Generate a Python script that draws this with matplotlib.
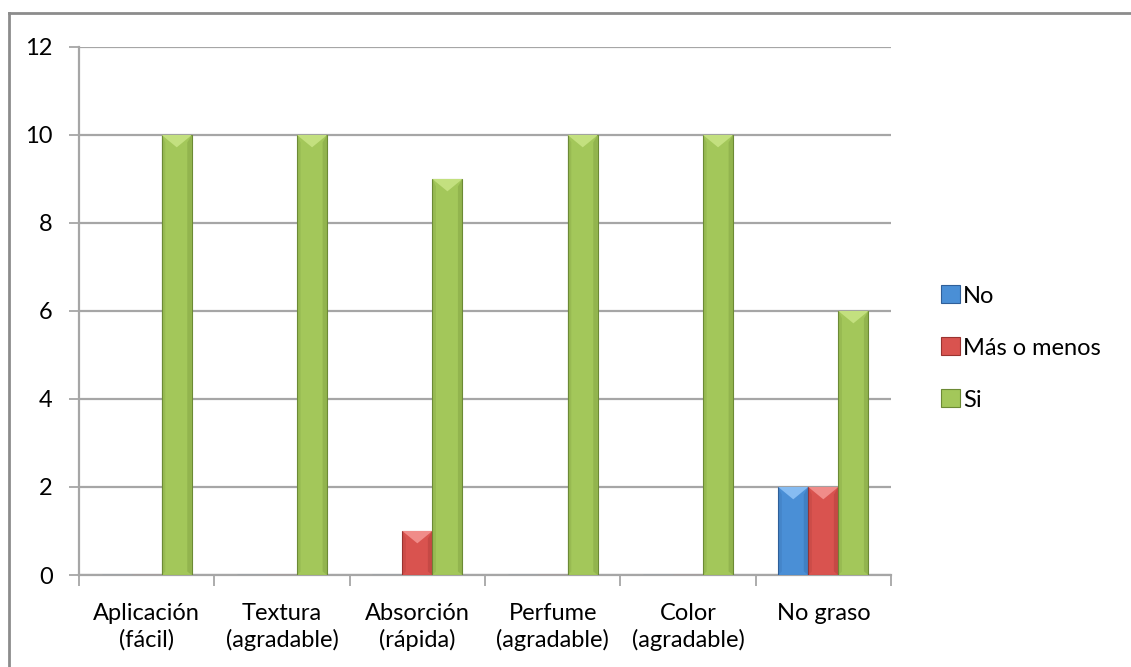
import numpy as np
import matplotlib.pyplot as plt
from matplotlib.patches import Polygon
from matplotlib.lines import Line2D

# survey results per attribute
categorias = ['Aplicación\n(fácil)', 'Textura\n(agradable)', 'Absorción\n(rápida)',
              'Perfume\n(agradable)', 'Color\n(agradable)', 'No graso']
no = [0, 0, 0, 0, 0, 2]
mas_o_menos = [0, 0, 1, 0, 0, 2]
si = [10, 10, 9, 10, 10, 6]

series = ['No', 'Más o menos', 'Si']
colores = ['#4A8FD6', '#D9534F', '#A3C75A']
bordes = ['#2F5F99', '#9A3330', '#6C8A35']
brillos = ['#86BCF2', '#F08C89', '#C3E07F']

plt.rcParams['font.family'] = ['Lato', 'DejaVu Sans']

fig = plt.figure(figsize=(11.31, 6.67), dpi=100)
ax = fig.add_axes([79 / 1131, 1 - 575 / 667, (891 - 79) / 1131, (575 - 47) / 667])

# outer frame of the chart
fig.add_artist(Line2D([9 / 1131, 1.0], [1 - 13 / 667, 1 - 13 / 667],
                      transform=fig.transFigure, color='#8C8C8C', lw=2))
fig.add_artist(Line2D([9 / 1131, 9 / 1131], [0, 1 - 13 / 667],
                      transform=fig.transFigure, color='#8C8C8C', lw=2))

x = np.arange(len(categorias))
ancho = 1 / 4.5
for i, (vals, c, b, h) in enumerate(zip([no, mas_o_menos, si], colores, bordes, brillos)):
    xs = x + (i - 1) * ancho
    barras = ax.bar(xs, vals, width=ancho, color=c, edgecolor=b, linewidth=0.8,
                    label=series[i], zorder=3)
    for rect, v in zip(barras, vals):
        if v <= 0:
            continue
        x0 = rect.get_x()
        w = rect.get_width()
        dy = 0.28
        # bevel highlight on the top of each bar
        ax.add_patch(Polygon([[x0, v], [x0 + w, v], [x0 + w * 0.5, v - dy]], closed=True,
                             facecolor=h, edgecolor='none', zorder=4))
        # darker side faces
        ax.add_patch(Polygon([[x0 + w * 0.85, 0.08], [x0 + w, 0], [x0 + w, v],
                              [x0 + w * 0.85, v - dy * 0.6]], closed=True,
                             facecolor=b, alpha=0.3, edgecolor='none', zorder=4))
        ax.add_patch(Polygon([[x0, 0], [x0 + w * 0.12, 0.08], [x0 + w * 0.12, v - dy * 0.6],
                              [x0, v]], closed=True,
                             facecolor=b, alpha=0.2, edgecolor='none', zorder=4))

ax.set_xlim(-0.5, len(categorias) - 0.5)
ax.set_ylim(0, 12)
ax.set_yticks(range(0, 13, 2))
ax.yaxis.grid(True, color='#A6A6A6', linewidth=1.6, zorder=0)
ax.set_axisbelow(True)

ax.set_xticks(x)
ax.set_xticklabels(categorias, fontsize=17, linespacing=1.3)
ax.set_xticks(np.arange(-0.5, len(categorias)), minor=True)
ax.tick_params(axis='x', which='major', length=0, pad=20)
ax.tick_params(axis='x', which='minor', length=8, width=1.3, color='#A6A6A6', direction='out')
ax.tick_params(axis='y', length=7, width=1.3, color='#A6A6A6', labelsize=17, pad=12)

for lado in ['top', 'right']:
    ax.spines[lado].set_visible(False)
for lado in ['left', 'bottom']:
    ax.spines[lado].set_color('#A6A6A6')
    ax.spines[lado].set_linewidth(1.6)

leg = ax.legend(loc='center left', bbox_to_anchor=(1.035, 0.43), frameon=False,
                fontsize=17, handlelength=0.8, handleheight=0.8,
                handletextpad=0.15, labelspacing=1.3)

fig.savefig('out.png', dpi=100, facecolor='white')
